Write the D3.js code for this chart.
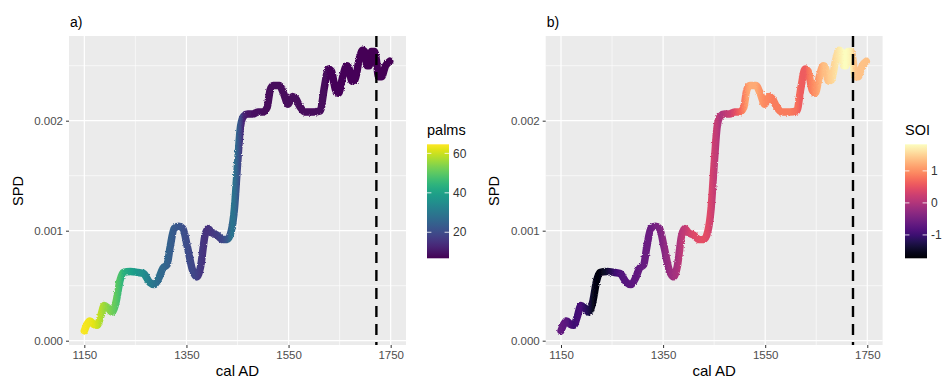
<!DOCTYPE html>
<html><head><meta charset="utf-8">
<script src="https://cdn.jsdelivr.net/npm/d3@7"></script>
<style>body{margin:0;background:#fff}svg{display:block}text{font-family:"Liberation Sans",Arial,sans-serif}</style>
</head><body><svg id="c" width="949" height="380"></svg>
<script>
const years = [1150,1161,1168,1175,1182,1189,1196,1204,1212,1220,1226,1240,1255,1266,1278,1287,1296,1304,1312,1318,1326,1335,1343,1352,1362,1370,1378,1386,1392,1400,1410,1420,1430,1438,1444,1450,1456,1462,1470,1480,1490,1500,1508,1514,1520,1532,1540,1549,1558,1564,1572,1582,1598,1612,1620,1628,1634,1642,1648,1656,1664,1668,1674,1680,1688,1695,1700,1704,1708,1712,1718,1722,1726,1732,1740,1748];
const spd = [0.00009,0.00018,0.00015,0.00014,0.00022,0.00032,0.00030,0.00026,0.00035,0.00055,0.00062,0.00063,0.00062,0.00061,0.00053,0.00051,0.00057,0.00066,0.00069,0.00085,0.00102,0.00104,0.00102,0.00085,0.00064,0.00058,0.00068,0.00095,0.00102,0.00098,0.00096,0.00092,0.00092,0.00100,0.00120,0.00160,0.00195,0.00204,0.00206,0.00206,0.00208,0.00208,0.00212,0.00228,0.00232,0.00232,0.00225,0.00215,0.00222,0.00220,0.00213,0.00208,0.00208,0.00209,0.00230,0.00247,0.00245,0.00228,0.00225,0.00240,0.00250,0.00248,0.00236,0.00237,0.00255,0.00264,0.00262,0.00250,0.00250,0.00263,0.00263,0.00255,0.00240,0.00240,0.00250,0.00254];
const palms = [64,63,62,60,58,56,54,52,50,47,44,40,37,35,31,29,27,26,25,24,23,22,21,20,19,18,16,15,15,16,17,19,23,29,28,24,19,13,10,9,9,8,8,8,8,8,8,8,8,8,8,8,8,8,8,7.5,7.5,7.5,7.5,7.5,7.5,7.5,7.5,7.5,7.2,7.2,7.2,7.2,7,7,7,7,7,7,7,7];
const soi = [-0.66,-0.77,-0.9,-1.0,-0.95,-0.9,-1.1,-1.27,-1.5,-1.66,-1.6,-1.37,-1.0,-0.84,-0.78,-0.73,-0.7,-0.66,-0.63,-0.6,-0.59,-0.5,-0.45,-0.3,-0.2,-0.13,-0.05,0.1,0.16,0.3,0.4,0.45,0.48,0.4,0.3,0.2,0.12,-0.02,0.1,0.23,0.45,0.7,0.9,1.1,1.2,1.2,1.05,0.95,0.9,0.85,0.85,0.85,0.85,0.75,0.6,0.6,0.8,0.95,1.05,1.2,1.35,1.35,1.45,1.5,1.6,1.68,1.75,1.83,1.83,1.8,1.72,1.55,1.4,1.38,1.38,1.36];
const xTicks = [1150,1350,1550,1750];
const xMinor = [1250,1450,1650];
const yTicks = [0,0.001,0.002];
const yMinor = [0.0005,0.0015,0.0025];
const contactYear = 1722;
const palmsBreaks = [20,40,60];
const soiBreaks = [-1,0,1];
const palmsRange = [6.8,64.6];
const soiRange = [-1.73,1.83];

const svg = d3.select("#c");
const defs = svg.append("defs");
const f = defs.append("filter").attr("id","fuzz").attr("filterUnits","userSpaceOnUse")
  .attr("x",0).attr("y",0).attr("width",949).attr("height",380);
f.append("feTurbulence").attr("type","fractalNoise").attr("baseFrequency",0.9).attr("numOctaves",1).attr("seed",3).attr("result","n");
f.append("feDisplacementMap").attr("in","SourceGraphic").attr("in2","n").attr("scale",2.8)
  .attr("xChannelSelector","R").attr("yChannelSelector","G");

function panel(o){
  const x = d3.scaleLinear().domain([1120,1780]).range([o.left,o.right]);
  const y = d3.scaleLinear().domain([-0.0000391,0.00277]).range([345,36]);
  const g = svg.append("g");
  g.append("rect").attr("x",o.left).attr("y",36).attr("width",o.right-o.left).attr("height",309).attr("fill","#EBEBEB");
  g.selectAll(".mnx").data(xMinor).enter().append("line").attr("x1",d=>x(d)).attr("x2",d=>x(d)).attr("y1",36).attr("y2",345).attr("stroke","#fff").attr("stroke-width",0.6);
  g.selectAll(".mny").data(yMinor).enter().append("line").attr("y1",d=>y(d)).attr("y2",d=>y(d)).attr("x1",o.left).attr("x2",o.right).attr("stroke","#fff").attr("stroke-width",0.6);
  g.selectAll(".mjx").data(xTicks).enter().append("line").attr("x1",d=>x(d)).attr("x2",d=>x(d)).attr("y1",36).attr("y2",345).attr("stroke","#fff").attr("stroke-width",1.2);
  g.selectAll(".mjy").data(yTicks).enter().append("line").attr("y1",d=>y(d)).attr("y2",d=>y(d)).attr("x1",o.left).attr("x2",o.right).attr("stroke","#fff").attr("stroke-width",1.2);

  const xa = g.append("g").attr("transform","translate(0,345)")
    .call(d3.axisBottom(x).tickValues(xTicks).tickFormat(d3.format("d")).tickSize(3).tickPadding(3));
  const ya = g.append("g").attr("transform",`translate(${o.left},0)`)
    .call(d3.axisLeft(y).tickValues(yTicks).tickFormat(d3.format(".3f")).tickSize(3).tickPadding(3));
  [xa,ya].forEach(a=>{a.select(".domain").remove();a.selectAll("line").attr("stroke","#333").attr("stroke-width",1);
    a.selectAll("text").attr("fill","#4D4D4D").style("font-size","11.5px");});

  const gid = "grad"+o.id;
  const lg = defs.append("linearGradient").attr("id",gid).attr("gradientUnits","userSpaceOnUse")
    .attr("x1",x(years[0])).attr("x2",x(years[years.length-1])).attr("y1",0).attr("y2",0);
  const span = x(years[years.length-1])-x(years[0]);
  years.forEach((yr,i)=>{
    lg.append("stop").attr("offset",(x(yr)-x(years[0]))/span).attr("stop-color",o.interp(o.cs(o.vals[i])));
  });
  const line = d3.line().x((d,i)=>x(years[i])).y((d,i)=>y(spd[i])).curve(d3.curveMonotoneX);
  g.append("path").datum(spd).attr("d",line).attr("fill","none").attr("stroke",`url(#${gid})`)
    .attr("stroke-width",7.5).attr("stroke-linejoin","round").attr("stroke-linecap","round").attr("filter","url(#fuzz)");

  g.append("line").attr("x1",x(contactYear)).attr("x2",x(contactYear)).attr("y1",36).attr("y2",345)
    .attr("stroke","#000").attr("stroke-width",2.4).attr("stroke-dasharray","11,7");

  g.append("text").attr("x",o.left+1).attr("y",27).text(o.tag).style("font-size","14px").attr("fill","#000");
  g.append("text").attr("x",(o.left+o.right)/2).attr("y",376).attr("text-anchor","middle").text("cal AD").style("font-size","15px").attr("fill","#000");
  g.append("text").attr("transform",`translate(${o.ylab},191) rotate(-90)`).attr("text-anchor","middle").text("SPD").style("font-size","14.5px").attr("fill","#000");

  const lx = o.legX, top = 144.3, bot = 258.3, w = 22;
  const lgid = "lg"+o.id;
  const vg = defs.append("linearGradient").attr("id",lgid).attr("x1",0).attr("x2",0).attr("y1",1).attr("y2",0);
  d3.range(0,1.0001,0.05).forEach(t=>vg.append("stop").attr("offset",t).attr("stop-color",o.interp(t)));
  g.append("rect").attr("x",lx).attr("y",top).attr("width",w).attr("height",bot-top).attr("fill",`url(#${lgid})`);
  const ls = d3.scaleLinear().domain(o.range).range([bot,top]);
  o.breaks.forEach(b=>{
    g.append("line").attr("x1",lx).attr("x2",lx+4.4).attr("y1",ls(b)).attr("y2",ls(b)).attr("stroke","#fff").attr("stroke-opacity",0.8).attr("stroke-width",1);
    g.append("line").attr("x1",lx+w-4.4).attr("x2",lx+w).attr("y1",ls(b)).attr("y2",ls(b)).attr("stroke","#fff").attr("stroke-opacity",0.8).attr("stroke-width",1);
    g.append("text").attr("x",lx+w+4).attr("y",ls(b)).attr("dy","0.35em").text(b).style("font-size","12px").attr("fill","#333");
  });
  g.append("text").attr("x",lx).attr("y",135).text(o.title).style("font-size","14.5px").attr("fill","#000");
}

panel({id:"a",tag:"a)",left:69,right:406,ylab:23,legX:427,title:"palms",vals:palms,
  cs:d3.scaleLinear().domain(palmsRange).range([0,1]),interp:d3.interpolateViridis,range:palmsRange,breaks:palmsBreaks});
panel({id:"b",tag:"b)",left:545.7,right:882.6,ylab:499,legX:905,title:"SOI",vals:soi,
  cs:d3.scaleLinear().domain(soiRange).range([0,1]),interp:d3.interpolateMagma,range:soiRange,breaks:soiBreaks});
</script></body></html>
